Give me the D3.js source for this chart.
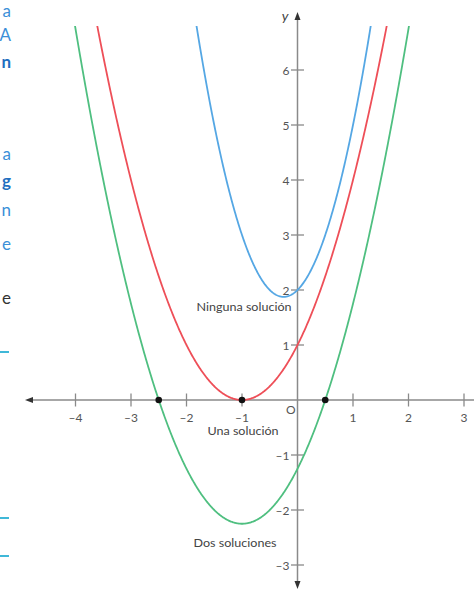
<!DOCTYPE html>
<html>
<head>
<meta charset="utf-8">
<script src="https://cdn.jsdelivr.net/npm/d3@7/dist/d3.min.js"></script>
<style>
  html, body { margin: 0; padding: 0; background: #fff; }
  svg { display: block; }
  text { font-family: Lato, "Open Sans", sans-serif; }
</style>
</head>
<body>
<svg id="chart" width="474" height="590"></svg>
<script>
// Quadratics y = a·x² + b·x + c, one per case
const curveNames = ["ninguna", "una", "dos"];
const coefA = [2, 1, 1];
const coefB = [1, 2, 2];
const coefC = [2, 1, -1.25];
const curveColors = ["#55a7e4", "#ee4f58", "#4fbf80"];

// Real roots marked on the x-axis
const rootX = [-2.5, -1, 0.5];

// Axis ticks
const xTicks = [-4, -3, -2, -1, 1, 2, 3];
const yTicks = [-3, -2, -1, 1, 2, 3, 4, 5, 6];

// Case captions
const captions = ["Ninguna solución", "Una solución", "Dos soluciones"];
const captionPos = [[244, 307], [243, 431], [235, 543]];
const captionWidth = [95, 71, 83];

// Fragments of the neighbouring page column
const sideLetters = ["a", "A", "n", "a", "g", "n", "e", "e"];
const sideLetterY = [11, 35, 62, 154, 181, 210, 244, 298];
const sideLetterColor = ["#3b8fd8", "#3b8fd8", "#1f6fc0", "#3b8fd8", "#1f6fc0", "#3b8fd8", "#3b8fd8", "#333"];
const sideDashY = [352, 518, 556];

const svg = d3.select("#chart");

const x = d3.scaleLinear().domain([-4, 3]).range([75.5, 464]);
const y = d3.scaleLinear().domain([-3, 6]).range([565, 70]);
const yMax = 6.8;

const axisColor = "#8a8a8a";
const labelColor = "#555";

// side fragments
svg.append("g").selectAll("text").data(sideLetters).join("text")
  .attr("x", 11).attr("y", (d, i) => sideLetterY[i] + 6)
  .attr("text-anchor", "end")
  .attr("font-size", 17)
  .attr("font-weight", (d, i) => (i === 2 || i === 4) ? 700 : 400)
  .attr("fill", (d, i) => sideLetterColor[i])
  .text(d => d);
svg.append("g").selectAll("line").data(sideDashY).join("line")
  .attr("x1", 0).attr("x2", 9)
  .attr("y1", d => d).attr("y2", d => d)
  .attr("stroke", "#3fb8d8").attr("stroke-width", 2);

// axes
const ax = svg.append("g");
ax.append("line")
  .attr("x1", 30).attr("x2", 474)
  .attr("y1", y(0)).attr("y2", y(0))
  .attr("stroke", axisColor).attr("stroke-width", 1.5);
ax.append("path")
  .attr("d", `M${25},${y(0)} L${33},${y(0) - 3} L${33},${y(0) + 3} Z`)
  .attr("fill", "#333");
ax.append("line")
  .attr("x1", x(0)).attr("x2", x(0))
  .attr("y1", 18).attr("y2", 584)
  .attr("stroke", axisColor).attr("stroke-width", 1.5);
ax.append("path")
  .attr("d", `M${x(0)},${12} L${x(0) - 3},${20} L${x(0) + 3},${20} Z`)
  .attr("fill", "#333");
ax.append("path")
  .attr("d", `M${x(0)},${589} L${x(0) - 3},${581} L${x(0) + 3},${581} Z`)
  .attr("fill", "#333");

// x ticks
const xt = ax.append("g").selectAll("g").data(xTicks).join("g")
  .attr("transform", d => `translate(${x(d)},${y(0)})`);
xt.append("line").attr("y1", -6.5).attr("y2", 6.5)
  .attr("stroke", axisColor).attr("stroke-width", 1.3);
xt.append("text").attr("y", 22).attr("text-anchor", "middle")
  .attr("font-size", 12).attr("fill", labelColor)
  .text(d => d < 0 ? "\u2013" + Math.abs(d) : d);

// y ticks
const yt = ax.append("g").selectAll("g").data(yTicks).join("g")
  .attr("transform", d => `translate(${x(0)},${y(d)})`);
yt.append("line").attr("x1", -6.5).attr("x2", 6.5)
  .attr("stroke", axisColor).attr("stroke-width", 1.3);
yt.append("text").attr("x", -8).attr("y", 4.5).attr("text-anchor", "end")
  .attr("font-size", 12).attr("fill", labelColor)
  .text(d => d < 0 ? "\u2013" + Math.abs(d) : d);

ax.append("text").attr("x", x(0) - 2).attr("y", y(0) + 14)
  .attr("text-anchor", "end").attr("font-size", 12).attr("fill", labelColor).text("O");
ax.append("text").attr("x", x(0) - 9).attr("y", 21)
  .attr("text-anchor", "end").attr("font-size", 14).attr("font-style", "italic")
  .attr("fill", "#444").text("y");

// curves, clipped at the top of the plot
svg.append("clipPath").attr("id", "plotClip")
  .append("rect").attr("x", 0).attr("y", y(yMax)).attr("width", 474).attr("height", 590);

const samples = d3.range(-4.3, 2.3, 0.01);
const line = d3.line().x(p => x(p[0])).y(p => y(p[1]));
svg.append("g").attr("clip-path", "url(#plotClip)")
  .selectAll("path").data(curveNames).join("path")
  .attr("d", (d, i) => line(samples.map(t => [t, coefA[i] * t * t + coefB[i] * t + coefC[i]])))
  .attr("fill", "none")
  .attr("stroke", (d, i) => curveColors[i])
  .attr("stroke-width", 1.8);

// roots
svg.append("g").selectAll("circle").data(rootX).join("circle")
  .attr("cx", d => x(d)).attr("cy", y(0)).attr("r", 3.3).attr("fill", "#111");

// captions
svg.append("g").selectAll("text").data(captions).join("text")
  .attr("x", (d, i) => captionPos[i][0]).attr("y", (d, i) => captionPos[i][1] + 3.5)
  .attr("text-anchor", "middle").attr("font-size", 10.5).attr("fill", "#444")
  .attr("textLength", (d, i) => captionWidth[i])
  .attr("lengthAdjust", "spacingAndGlyphs")
  .text(d => d);
</script>
</body>
</html>
